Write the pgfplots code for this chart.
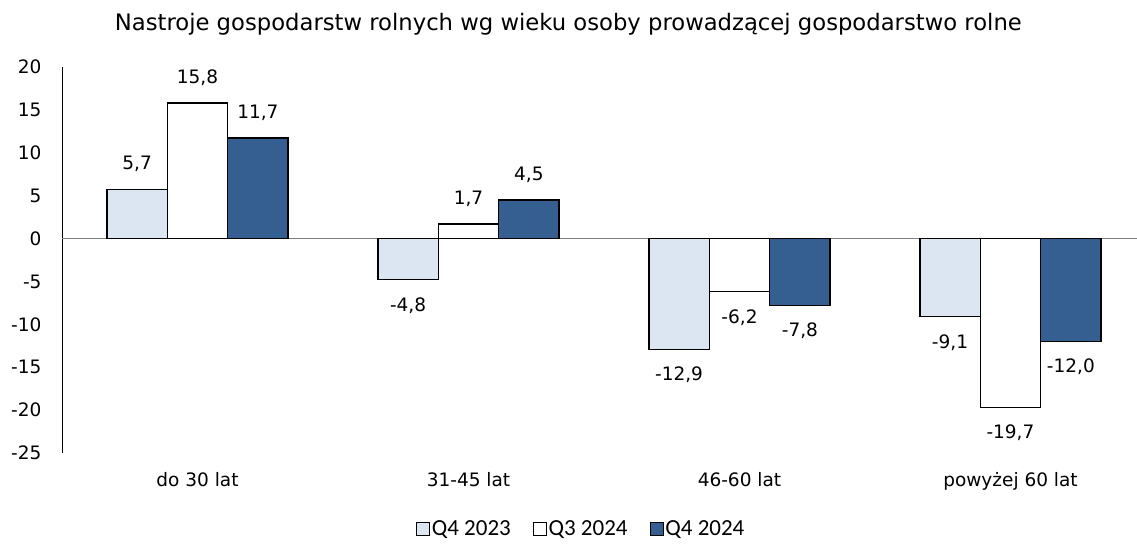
\documentclass[border=0pt]{standalone}
\usepackage{fontspec}
\setmainfont{DejaVu Sans}
\newfontfamily\calibri{Carlito}
\usepackage{pgfplots}
\pgfplotsset{compat=1.18}
\definecolor{cLight}{RGB}{220,230,242}
\definecolor{cDark}{RGB}{54,95,145}
\definecolor{cZero}{RGB}{128,128,128}
\begin{document}
\begin{tikzpicture}
\begin{axis}[
  name=ax,
  scale only axis,
  width=1075pt, height=386pt,
  xmin=-0.5, xmax=3.467,
  ymin=-25, ymax=20,
  ytick={-25,-20,...,20},
  xtick={0,1,2,3},
  xticklabels={do 30 lat,31-45 lat,46-60 lat,powyżej 60 lat},
  axis y line*=left,
  axis x line*=bottom,
  x axis line style={draw=none},
  y axis line style={black, line width=0.8pt},
  major tick length=0pt,
  /pgf/number format/assume math mode=true,
  tick label style={font=\fontsize{18.5}{22}\selectfont},
  yticklabel style={xshift=-17pt},
  xticklabel style={yshift=-16pt},
  clip=false,
  ybar,
  bar width=0.223,
  title={Nastroje gospodarstw rolnych wg wieku osoby prowadzącej gospodarstwo rolne},
  title style={at={(0.471,1)}, anchor=center, yshift=37pt, font=\fontsize{22.7}{26}\selectfont},
  nodes near coords={\pgfmathprintnumber[fixed,fixed zerofill,precision=1,use comma,assume math mode=true]{\pgfplotspointmeta}},
  every node near coord/.append style={font=\fontsize{18.5}{22}\selectfont, inner sep=17pt, text=black},
  legend style={at={(0.483,-0.197)}, anchor=center, draw=none, legend columns=-1,
    font=\calibri\fontsize{23}{27}\selectfont,
    /tikz/every even column/.append style={column sep=20pt}},
  legend image code/.code={\draw[#1, line width=0.8pt, draw=black] (0pt,-6.5pt) rectangle (13pt,6.5pt);},
]
\draw[cZero, line width=1.2pt] (axis cs:-0.5,0) -- (axis cs:3.467,0);
\addplot[fill=cLight, draw=black, line width=1.4pt, bar shift=-0.223] coordinates {(0,5.7) (1,-4.8) (2,-12.9) (3,-9.1)};
\addplot[fill=white, draw=black, line width=1.4pt, bar shift=0] coordinates {(0,15.8) (1,1.7) (2,-6.2) (3,-19.7)};
\addplot[fill=cDark, draw=black, line width=1.4pt, bar shift=0.223] coordinates {(0,11.7) (1,4.5) (2,-7.8) (3,-12.0)};
\legend{Q4 2023,Q3 2024,Q4 2024}
\end{axis}
\pgfresetboundingbox
\path[use as bounding box] ([shift={(-62pt,-95pt)}]ax.south west) rectangle ([shift={(0pt,67pt)}]ax.north east);
\end{tikzpicture}
\end{document}
